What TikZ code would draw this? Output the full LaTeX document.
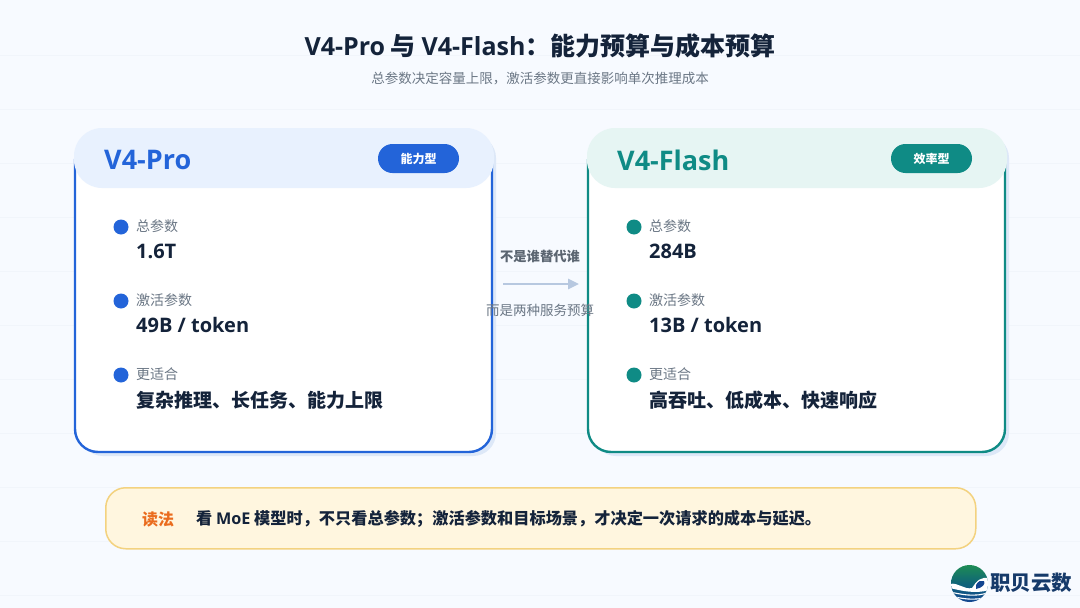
\documentclass[tikz,border=0pt]{standalone}
\usepackage{fontspec}
\setmainfont{Noto Sans CJK SC}
\newfontfamily\latinfont{Open Sans}
\usepackage{tikz}
\usetikzlibrary{positioning, arrows.meta, calc}
\definecolor{bgcolor}{RGB}{247,250,255}
\definecolor{gridcolor}{RGB}{241,245,251}
\definecolor{shadowcolor}{RGB}{221,232,248}
\definecolor{procolor}{RGB}{35,100,217}
\definecolor{proback}{RGB}{232,241,254}
\definecolor{flashcolor}{RGB}{15,139,133}
\definecolor{flashback}{RGB}{230,245,243}
\definecolor{inkcolor}{RGB}{20,35,58}
\definecolor{mutedcolor}{RGB}{107,119,133}
\definecolor{arrowcolor}{RGB}{183,200,224}
\definecolor{notefill}{RGB}{255,246,223}
\definecolor{noteline}{RGB}{243,210,127}
\definecolor{noteword}{RGB}{234,108,30}
\definecolor{logoink}{RGB}{22,58,106}
\definecolor{logotop}{RGB}{30,140,85}
\definecolor{logomid}{RGB}{15,100,120}
\definecolor{logolow}{RGB}{20,70,145}
\tikzset{
  cardshadow/.style={fill=shadowcolor, rounded corners=23, minimum width=416, minimum height=321, anchor=north west, inner sep=0, outer sep=0},
  cardbody/.style={draw=#1, fill=white, line width=2.4, rounded corners=23, minimum width=417, minimum height=314, anchor=north west, inner sep=0, outer sep=0},
  cardhead/.style={fill=#1, rounded corners=28, minimum width=420, minimum height=60, anchor=north west, inner sep=0, outer sep=0},
  cardname/.style={text=#1, anchor=west, font=\fontsize{27}{30}\selectfont\bfseries\latinfont, inner sep=0},
  tagpill/.style={fill=#1, text=white, rounded corners=14.5, minimum width=81, minimum height=29, inner sep=0, font=\fontsize{12}{14}\selectfont\bfseries},
  itemdot/.style={circle, fill=#1, minimum size=15, inner sep=0},
  itemlabel/.style={text=mutedcolor, anchor=west, inner sep=0, font=\fontsize{14}{16}\selectfont},
  itemvalue/.style={text=inkcolor, anchor=west, inner sep=0, font=\fontsize{20}{24}\selectfont\bfseries\latinfont},
  itemwords/.style={text=inkcolor, anchor=west, inner sep=0, font=\fontsize{19}{24}\selectfont\bfseries},
}
\begin{document}
\begin{tikzpicture}[x=1pt, y=-1pt]
    \useasboundingbox (0,0) rectangle (1080,608);
    % Fond
    \fill[bgcolor] (0,0) rectangle (1080,608);
    \foreach \gridy in {55,109,163,217,271,325,379,433,487,541,595}
        \draw[gridcolor, line width=1] (0,\gridy) -- (1080,\gridy);

    % Titre
    \node[text=inkcolor, inner sep=0, font=\fontsize{25}{30}\selectfont\bfseries] (title) at (540,46) {{\latinfont V4-Pro} 与 {\latinfont V4-Flash}：能力预算与成本预算};
    \node[text=mutedcolor, inner sep=0, font=\fontsize{13.5}{16}\selectfont] (subtitle) at (540,79) {总参数决定容量上限，激活参数更直接影响单次推理成本};

    % Carte V4-Pro
    \node[cardshadow] (proshadow) at (80,135) {};
    \node[cardbody=procolor] (procard) at (75,138) {};
    \node[cardhead=proback] (prohead) at (74,128) {};
    \node[cardname=procolor] (proname) at (104,160) {V4-Pro};
    \node[tagpill=procolor] (protag) at (418.5,158.5) {能力型};

    \node[itemdot=procolor] (prodota) at (121,227) {};
    \node[itemlabel] (prolabela) at (136,226.5) {总参数};
    \node[itemvalue] (provaluea) at (136,251) {1.6T};
    \node[itemdot=procolor] (prodotb) at (121,301) {};
    \node[itemlabel] (prolabelb) at (136,300.5) {激活参数};
    \node[itemvalue] (provalueb) at (136,325) {49B / token};
    \node[itemdot=procolor] (prodotc) at (121,375) {};
    \node[itemlabel] (prolabelc) at (136,374.5) {更适合};
    \node[itemwords] (provaluec) at (136,400) {复杂推理、长任务、能力上限};

    % Carte V4-Flash
    \node[cardshadow] (flashshadow) at (593,135) {};
    \node[cardbody=flashcolor] (flashcard) at (588,138) {};
    \node[cardhead=flashback] (flashhead) at (587,128) {};
    \node[cardname=flashcolor] (flashname) at (617,160) {V4-Flash};
    \node[tagpill=flashcolor] (flashtag) at (931.5,158.5) {效率型};

    \node[itemdot=flashcolor] (flashdota) at (634,227) {};
    \node[itemlabel] (flashlabela) at (649,226.5) {总参数};
    \node[itemvalue] (flashvaluea) at (649,251) {284B};
    \node[itemdot=flashcolor] (flashdotb) at (634,301) {};
    \node[itemlabel] (flashlabelb) at (649,300.5) {激活参数};
    \node[itemvalue] (flashvalueb) at (649,325) {13B / token};
    \node[itemdot=flashcolor] (flashdotc) at (634,375) {};
    \node[itemlabel] (flashlabelc) at (649,374.5) {更适合};
    \node[itemwords] (flashvaluec) at (649,400) {高吞吐、低成本、快速响应};

    % Milieu
    \node[text=mutedcolor!85!black, inner sep=0, font=\fontsize{13.3}{15}\selectfont\bfseries] (midtop) at (540,256) {不是谁替代谁};
    \coordinate (arrowstart) at (503,284);
    \coordinate (arrowend) at (579,284);
    \draw[-{Triangle[length=11, width=10]}, arrowcolor, line width=2.6] (arrowstart) -- (arrowend);
    \node[text=mutedcolor, inner sep=0, font=\fontsize{13.5}{15}\selectfont] (midbottom) at (540,310) {而是两种服务预算};

    % Lecture
    \node[draw=noteline, fill=notefill, line width=1.5, rounded corners=20, minimum width=870, minimum height=61, anchor=north west, inner sep=0] (note) at (105,487) {};
    \node[text=noteword, anchor=west, inner sep=0, font=\fontsize{16}{18}\selectfont\bfseries] (noteword) at (142,519) {读法};
    \node[text=inkcolor, anchor=west, inner sep=0, font=\fontsize{16.2}{18}\selectfont\bfseries] (notetext) at (196,519) {看 {\latinfont MoE} 模型时，不只看总参数；激活参数和目标场景，才决定一次请求的成本与延迟。};

    % Logo
    \shade[top color=logotop, bottom color=logolow, middle color=logomid] (969.5,583.5) circle (18.5);
    \begin{scope}
        \clip (969.5,583.5) circle (18.5);
        \fill[white] (950,584) .. controls (958,582) and (964,590) .. (972,588) .. controls (976,582) and (981,575) .. (990,579) -- (990,590) .. controls (975,594) and (962,591) .. (950,588) -- cycle;
        \fill[logolow] (976,585) .. controls (978,581) and (981,580) .. (984,581) .. controls (986,584) and (982,588) .. (976,589) -- cycle;
        \draw[white, line width=1.1] (950,592) .. controls (960,594) and (975,598) .. (990,592);
        \draw[white, line width=1.1] (950,596) .. controls (960,598) and (975,602) .. (990,596);
        \draw[white, line width=1.1] (950,600) .. controls (960,602) and (975,605) .. (990,600);
    \end{scope}
    \node[text=logoink, anchor=west, inner sep=0, font=\fontsize{20.5}{24}\selectfont\bfseries] (logotext) at (990,583) {职贝云数};
\end{tikzpicture}
\end{document}
